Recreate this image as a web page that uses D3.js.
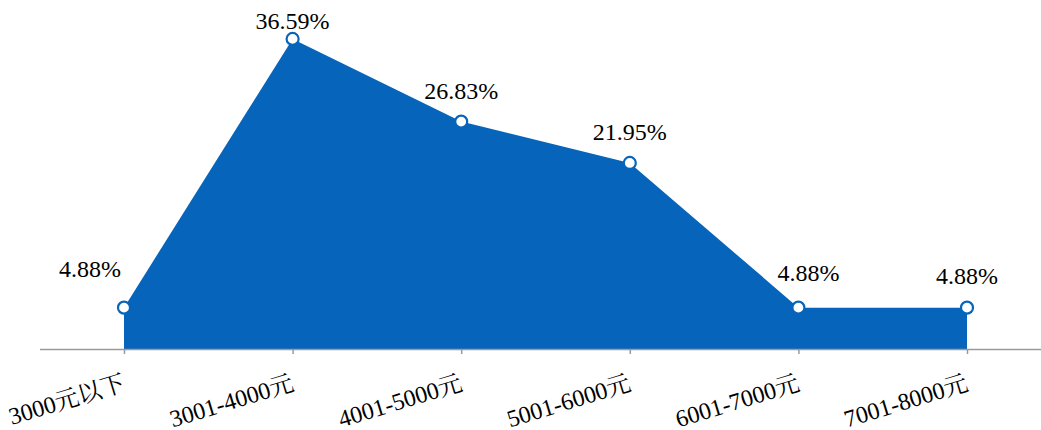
<!DOCTYPE html>
<html><head><meta charset="utf-8">
<script src="https://cdn.jsdelivr.net/npm/d3@7/dist/d3.min.js"></script>
</head>
<body style="margin:0;padding:0;background:#fff;"><svg id="c" width="1041" height="430" style="display:block"></svg>
<script>
const categories = ["3000元以下","3001-4000元","4001-5000元","5001-6000元","6001-7000元","7001-8000元"];
const values = [4.88, 36.59, 26.83, 21.95, 4.88, 4.88];
const labels = ["4.88%","36.59%","26.83%","21.95%","4.88%","4.88%"];
const labelDx = [-34, 0, 0, 0, 10, 0];
const labelDy = [-31, -10, -23, -23, -27, -24];

const FONT = '"Liberation Serif","Noto Serif CJK SC"';
const svg = d3.select("#c");
const x = d3.scalePoint().domain(categories).range([124, 967]);
const y = d3.scaleLinear().domain([0, 40]).range([349, 10]);
const color = "#0665ba";

const data = categories.map((c,i)=>({c, v: values[i], l: labels[i], dx: labelDx[i], dy: labelDy[i]}));

svg.append("path").datum(data)
  .attr("fill", color)
  .attr("d", d3.area().x(d=>x(d.c)).y0(y(0)).y1(d=>y(d.v)));

const ax = svg.append("g").attr("transform", `translate(0,${y(0)})`)
  .call(d3.axisBottom(x).tickSize(5).tickSizeOuter(0));
ax.attr("font-family", FONT).attr("font-size", 24);
ax.select(".domain").remove();
ax.insert("line", ":first-child").attr("x1", 40).attr("x2", 1041).attr("y1", 0.5).attr("y2", 0.5)
  .attr("stroke", "#9a9a9a").attr("stroke-width", 1.5);
ax.selectAll(".tick line").attr("stroke", "#9a9a9a").attr("stroke-width", 1.5);
ax.selectAll(".tick text")
  .style("font-family", FONT)
  .attr("fill", "#000")
  .attr("text-anchor", "end")
  .attr("dy", null).attr("y", 0)
  .attr("transform", "translate(2,41) rotate(-17)");

svg.selectAll("circle.pt").data(data).join("circle")
  .attr("class","pt")
  .attr("cx", d=>x(d.c)).attr("cy", d=>y(d.v)).attr("r", 6)
  .attr("fill", "#fff").attr("stroke", color).attr("stroke-width", 2.2);

svg.selectAll("text.lbl").data(data).join("text")
  .attr("class","lbl")
  .style("font-family", FONT)
  .attr("x", d=>x(d.c)+d.dx).attr("y", d=>y(d.v)+d.dy)
  .attr("text-anchor","middle").attr("font-size", 24).attr("fill","#000")
  .text(d=>d.l);
</script></body></html>
